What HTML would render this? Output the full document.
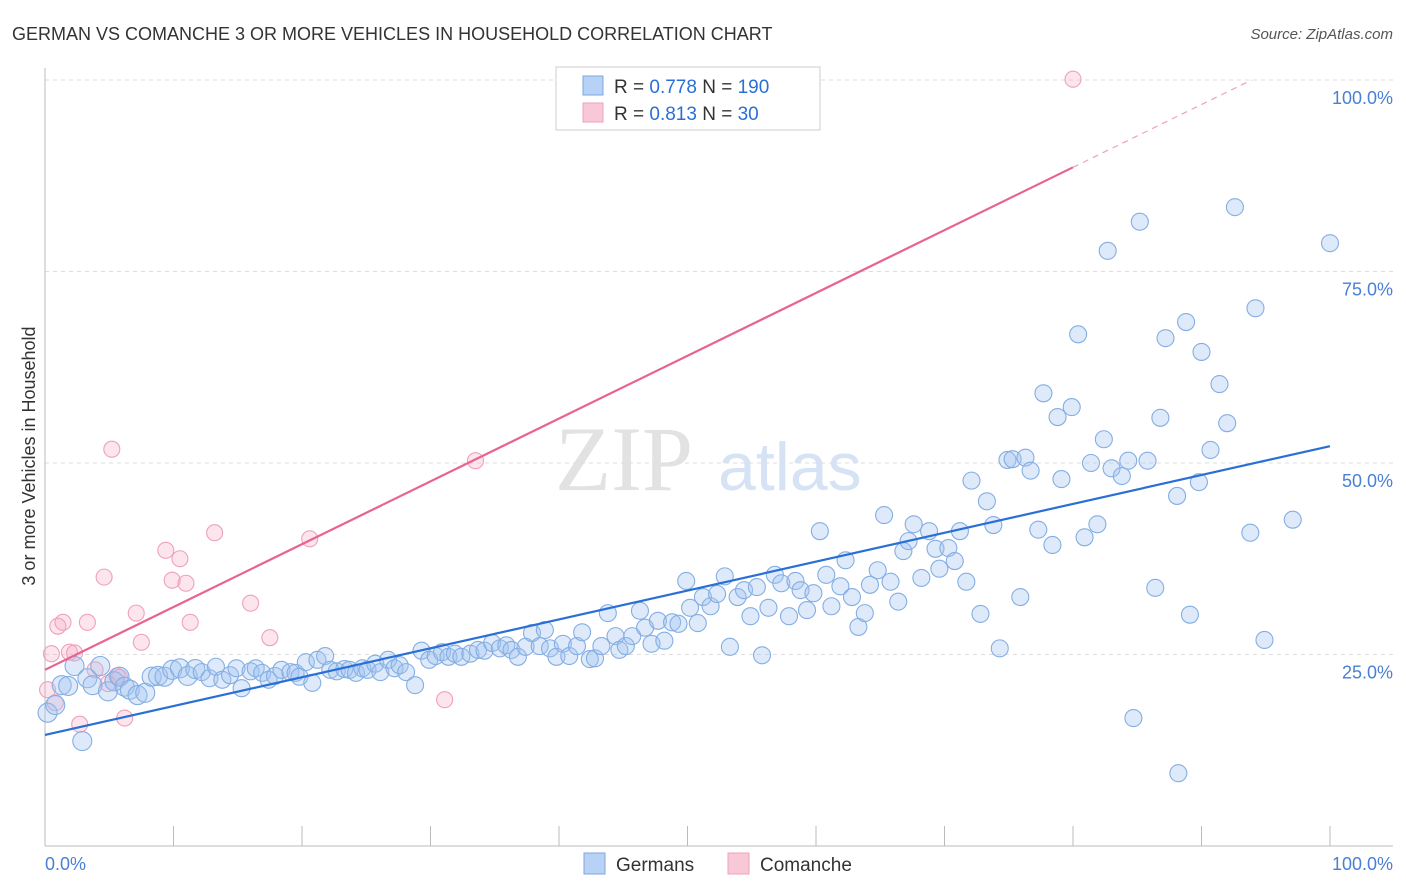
<!DOCTYPE html>
<html><head><meta charset="utf-8"><style>
body{margin:0;background:#fff;font-family:"Liberation Sans",sans-serif;}
svg{display:block}
</style></head><body>
<svg id="chart" width="1406" height="892" xmlns="http://www.w3.org/2000/svg">
<text x="12" y="40" font-size="18" fill="#333">GERMAN VS COMANCHE 3 OR MORE VEHICLES IN HOUSEHOLD CORRELATION CHART</text>
<text x="1393" y="39" font-size="15" fill="#555" font-style="italic" text-anchor="end">Source: ZipAtlas.com</text>
<text x="555" y="490" font-size="92" fill="#e2e2e2" font-family="Liberation Serif,serif">ZIP</text>
<text x="718" y="490" font-size="68" fill="#d6e3f5">atlas</text>
<g id="grid"></g>
<g id="axes"></g>
<g id="marks"></g>
<text x="35" y="456" font-size="18" fill="#333" text-anchor="middle" transform="rotate(-90 35 456)">3 or more Vehicles in Household</text>
<text x="45" y="870" font-size="18" fill="#4a7fd6">0.0%</text>
<text x="1393" y="870" font-size="18" fill="#4a7fd6" text-anchor="end">100.0%</text>
<g>
<rect x="556" y="67" width="264" height="63" fill="#fff" stroke="#ccc"/>
<rect x="583" y="76" width="20" height="19" fill="#b8d2f5" stroke="#7aa8e0"/>
<rect x="583" y="103" width="20" height="19" fill="#f9c8d7" stroke="#f0a0bb"/>
<text x="614" y="93" font-size="19" fill="#333">R = <tspan fill="#2a6fd6">0.778</tspan>   N = <tspan fill="#2a6fd6">190</tspan></text>
<text x="614" y="120" font-size="19" fill="#333">R =  <tspan fill="#2a6fd6">0.813</tspan>   N =   <tspan fill="#2a6fd6">30</tspan></text>
</g>
<g><rect x="584" y="853" width="21" height="21" fill="#b8d2f5" stroke="#7aa8e0"/><text x="616" y="871" font-size="19" fill="#333">Germans</text></g>
<g><rect x="728" y="853" width="21" height="21" fill="#f9c8d7" stroke="#f0a0bb"/><text x="760" y="871" font-size="19" fill="#333">Comanche</text></g>
</svg>
<script>
const blueX=[0.2,0.8,1.3,1.8,2.3,2.9,3.3,3.7,4.3,4.9,5.4,5.8,6.2,6.6,7.2,7.8,8.3,8.8,9.3,9.9,10.5,11.1,11.7,12.2,12.8,13.3,13.8,14.4,14.9,15.3,16,16.4,16.9,17.4,17.9,18.4,19.1,19.5,19.8,20.3,20.8,21.2,21.8,22.2,22.7,23.3,23.7,24.2,24.7,25.1,25.7,26.1,26.7,27.2,27.6,28.1,28.8,29.3,29.9,30.4,30.9,31.4,31.9,32.4,33.1,33.7,34.2,34.8,35.4,35.9,36.3,36.8,37.4,37.9,38.5,38.9,39.3,39.8,40.3,40.8,41.4,41.8,42.4,42.8,43.3,43.8,44.4,44.7,45.2,45.7,46.3,46.7,47.2,47.7,48.2,48.8,49.3,49.9,50.2,50.8,51.2,51.8,52.3,52.9,53.3,53.9,54.4,54.9,55.4,55.8,56.3,56.8,57.3,57.9,58.4,58.8,59.3,59.8,60.3,60.8,61.2,61.9,62.3,62.8,63.3,63.8,64.2,64.8,65.3,65.8,66.4,66.8,67.2,67.6,68.2,68.8,69.3,69.6,70.3,70.8,71.2,71.7,72.1,72.8,73.3,73.8,74.3,74.9,75.3,75.9,76.3,76.7,77.3,77.7,78.4,78.8,79.1,79.9,80.4,80.9,81.4,81.9,82.4,82.7,83,83.8,84.3,84.7,85.2,85.8,86.4,86.8,87.2,88.1,88.2,88.8,89.1,89.8,90,90.7,91.4,92,92.6,93.8,94.2,94.9,97.1,100];
const blueY=[17.4,18.4,21,20.9,23.5,13.7,21.9,21,23.5,20.2,21.5,22.1,20.8,20.4,19.7,20,22.1,22.2,22.1,23,23.2,22.2,23.1,22.7,21.9,23.4,21.7,22.3,23.2,20.6,22.8,23.2,22.6,21.7,22.2,23,22.7,22.6,22.1,24,21.3,24.3,24.8,23,22.8,23.1,23,22.6,23.2,23,23.8,22.7,24.3,23.2,23.6,22.7,21,25.5,24.3,24.8,25.3,24.7,25.1,24.7,25.1,25.6,25.5,26.5,25.8,26.2,25.6,24.7,26,27.8,26.1,28.2,25.8,24.7,26.4,24.8,26.1,27.9,24.4,24.5,26.1,30.4,27.4,25.6,26.1,27.4,30.7,28.5,26.4,29.4,26.8,29.2,29,34.6,31.1,29.1,32.5,31.3,32.9,35.2,26,32.5,33.4,30,33.8,24.9,31.1,35.4,34.3,30,34.6,33.4,30.8,33,41.1,35.4,31.3,33.9,37.3,32.5,28.6,30.4,34.1,36,43.2,34.5,31.9,38.5,39.8,42,35,41.1,38.8,36.2,38.9,37.2,41.1,34.5,47.7,30.3,45,41.9,25.8,50.4,50.5,32.5,50.7,49,41.3,59.1,39.3,56,47.9,57.3,66.8,40.3,50,42,53.1,77.7,49.3,48.3,50.3,16.7,81.5,50.3,33.7,55.9,66.3,45.7,9.5,68.4,30.2,47.5,64.5,51.7,60.3,55.2,83.4,40.9,70.2,26.9,42.6,78.7];
const pinkX=[0.2,0.5,0.8,1.0,1.4,1.9,2.3,2.7,3.3,3.9,4.6,5.2,5.6,6.2,7.1,7.5,9.4,9.9,10.5,10.97,11.3,13.2,16,17.5,20.6,31.1,33.5,80,4.9,5.8];
const pinkY=[20.4,25.1,18.7,28.7,29.2,25.3,25.2,15.9,29.2,23,35.1,51.8,22.2,16.7,30.4,26.6,38.6,34.7,37.5,34.3,29.2,40.9,31.7,27.2,40.1,19.1,50.3,100.1,21.2,22];
const blueFit=[14.5,52.2];
const pinkFit=[23,88.6];
const yTicks=[25,50,75,100];
const xTicks=[0,10,20,30,40,50,60,70,80,90,100];
const NS='http://www.w3.org/2000/svg';
const sx=v=>45+v*12.85, sy=v=>846-v*7.66;
function mk(tag,attrs,parent){const e=document.createElementNS(NS,tag);for(const k in attrs)e.setAttribute(k,attrs[k]);document.getElementById(parent).appendChild(e);return e;}
yTicks.forEach(t=>{
 const l=mk('line',{x1:45,x2:1393,y1:sy(t),y2:sy(t),stroke:'#ddd','stroke-dasharray':'4,4'},'grid');
 
 
 const tx=mk('text',{x:1393,y:sy(t)+24,'font-size':18,fill:'#4a7fd6','text-anchor':'end'},'grid');
 tx.textContent=t.toFixed(1)+'%';
 
 
});
let a=mk('line',{x1:45,x2:1393,y1:846,y2:846,stroke:'#bbb'},'axes');


a=mk('line',{x1:45,x2:45,y1:68,y2:846,stroke:'#bbb'},'axes');


xTicks.forEach(t=>{const l=mk('line',{x1:sx(t),x2:sx(t),y1:826,y2:846,stroke:'#bbb'},'axes');
 
 });
pinkX.forEach((x,i)=>{const c=mk('circle',{cx:sx(x),cy:sy(pinkY[i]),r:8,fill:'rgba(245,170,195,0.3)',stroke:'#f0a0bb','stroke-width':1.1},'marks');
 
 });
blueX.forEach((x,i)=>{const c=mk('circle',{cx:sx(x),cy:sy(blueY[i]),r:x<12?9.5:8.5,fill:'rgba(160,196,240,0.35)',stroke:'#84aee3','stroke-width':1.1},'marks');
 
 });
let ln=mk('line',{x1:sx(0),y1:sy(blueFit[0]),x2:sx(100),y2:sy(blueFit[1]),stroke:'#2a6fd6','stroke-width':2.2},'marks');


ln=mk('line',{x1:sx(0),y1:sy(pinkFit[0]),x2:sx(80),y2:sy(pinkFit[1]),stroke:'#e8638f','stroke-width':2.2},'marks');


const slope=(pinkFit[1]-pinkFit[0])/80, xe=(100-pinkFit[0])/slope;
ln=mk('line',{x1:sx(80),y1:sy(pinkFit[1]),x2:sx(xe),y2:sy(100),stroke:'#f0a0bb','stroke-width':1.2,'stroke-dasharray':'6,5'},'marks');


</script>
</body></html>
